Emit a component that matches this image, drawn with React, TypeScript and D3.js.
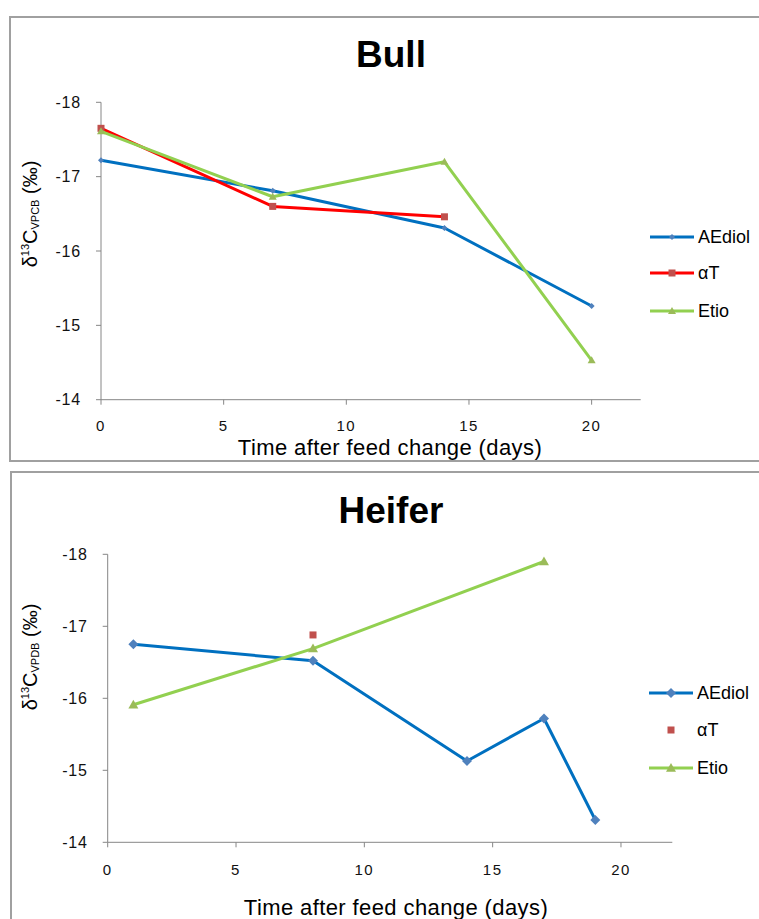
import React from "react";
import * as d3 from "d3";

// ---------- data ----------
const xTicks = [0, 5, 10, 15, 20];
const yTicks = [-18, -17, -16, -15, -14];
const seriesNames = ["AEdiol", "αT", "Etio"];

const bullAEdiolDays = [0, 7, 14, 20];
const bullAEdiol = [-17.22, -16.81, -16.31, -15.26];
const bullAlphaTDays = [0, 7, 14];
const bullAlphaT = [-17.65, -16.6, -16.46];
const bullEtioDays = [0, 7, 14, 20];
const bullEtio = [-17.61, -16.73, -17.2, -14.53];

const heiferAEdiolDays = [1, 8, 14, 17, 19];
const heiferAEdiol = [-16.75, -16.52, -15.13, -15.72, -14.31];
const heiferAlphaTDays = [8];
const heiferAlphaT = [-16.88];
const heiferEtioDays = [1, 8, 17];
const heiferEtio = [-15.91, -16.69, -17.9];

// ---------- styles ----------
const LINE = { AEdiol: "#0070C0", "αT": "#FF0000", Etio: "#92D050" } as Record<string, string>;
const MARK = { AEdiol: "#4F81BD", "αT": "#C0504D", Etio: "#9BBB59" } as Record<string, string>;
const AXIS = "#868686";
const FONT = "'Liberation Sans', Arial, sans-serif";

type Series = { name: string; days: number[]; vals: number[]; line: boolean };

function marker(name: string, x: number, y: number, sz: { d: number; s: number; t: number }, key: string) {
  const fill = MARK[name];
  if (name === "AEdiol") {
    const r = sz.d;
    return <path key={key} d={`M${x},${y - r}L${x + r},${y}L${x},${y + r}L${x - r},${y}Z`} fill={fill} />;
  }
  if (name === "αT") {
    const h = sz.s / 2;
    return <rect key={key} x={x - h} y={y - h} width={sz.s} height={sz.s} fill={fill} />;
  }
  const w = sz.t / 2;
  return <path key={key} d={`M${x},${y - w}L${x + w},${y + w * 0.75}L${x - w},${y + w * 0.75}Z`} fill={fill} />;
}

function Panel(props: {
  title: string;
  titleY: number;
  sub: string;
  yTitleX: number;
  yTitleY: number;
  xr: [number, number];
  yr: [number, number];
  series: Series[];
  sz: { d: number; s: number; t: number };
  legX: number;
  legY: number[];
  xLabelY: number;
  xTitleX: number;
  xTitleY: number;
  legendNoLine: string[];
}) {
  const x = d3.scaleLinear().domain([0, 22]).range(props.xr);
  const y = d3.scaleLinear().domain([-18, -14]).range(props.yr);
  const line = d3
    .line<[number, number]>()
    .x((d) => x(d[0]))
    .y((d) => y(d[1]));
  const x0 = props.xr[0];
  const yb = props.yr[1];
  return (
    <g>
      <text x={391} y={props.titleY} textAnchor="middle" fontFamily={FONT} fontWeight="bold" fontSize={37} fill="#000">
        {props.title}
      </text>
      {/* axes */}
      <line x1={x0} x2={x0} y1={props.yr[0]} y2={yb} stroke={AXIS} strokeWidth={1} />
      <line x1={x0} x2={props.xr[1]} y1={yb} y2={yb} stroke={AXIS} strokeWidth={1} />
      {yTicks.map((t) => (
        <g key={"yt" + t}>
          <line x1={x0 - 5} x2={x0} y1={y(t)} y2={y(t)} stroke={AXIS} />
          <text x={x0 - 20} y={y(t)} dy="0.35em" textAnchor="end" fontFamily={FONT} fontSize={16} fill="#111" letterSpacing={0.8}>
            {String(t)}
          </text>
        </g>
      ))}
      {xTicks.map((t) => (
        <g key={"xt" + t}>
          <line x1={x(t)} x2={x(t)} y1={yb} y2={yb + 5} stroke={AXIS} />
          <text x={x(t)} y={props.xLabelY} textAnchor="middle" fontFamily={FONT} fontSize={15} fill="#111" letterSpacing={1.5}>
            {t}
          </text>
        </g>
      ))}
      <text x={props.xTitleX} y={props.xTitleY} textAnchor="middle" fontFamily={FONT} fontSize={22} fill="#000" letterSpacing={0.4}>
        Time after feed change (days)
      </text>
      <text
        transform={`translate(${props.yTitleX},${props.yTitleY}) rotate(-90)`}
        textAnchor="middle"
        fontFamily={FONT}
        fontSize={20}
        fill="#000"
      >
        <tspan>δ</tspan>
        <tspan fontSize={11} dy={-8}>13</tspan>
        <tspan fontSize={20} dy={8}>C</tspan>
        <tspan fontSize={11} dy={2}>{props.sub}</tspan>
        <tspan fontSize={20} dy={-2}> (‰)</tspan>
      </text>
      {/* series */}
      {props.series.map((s) => {
        const pts = s.days.map((d, i) => [d, s.vals[i]] as [number, number]);
        return (
          <g key={s.name}>
            {s.line && pts.length > 1 && (
              <path d={line(pts) || ""} fill="none" stroke={LINE[s.name]} strokeWidth={3} strokeLinejoin="round" />
            )}
            {pts.map((p, i) => marker(s.name, x(p[0]), y(p[1]), props.sz, s.name + i))}
          </g>
        );
      })}
      {/* legend */}
      {seriesNames.map((n, i) => {
        const ly = props.legY[i];
        const noLine = props.legendNoLine.includes(n);
        return (
          <g key={"leg" + n}>
            {!noLine && (
              <line x1={props.legX} x2={props.legX + 44} y1={ly} y2={ly} stroke={LINE[n]} strokeWidth={3} />
            )}
            {marker(n, props.legX + 22, ly, props.sz, "lm" + n)}
            <text x={props.legX + 48} y={ly} dy="0.35em" fontFamily={FONT} fontSize={18} fill="#000">
              {n}
            </text>
          </g>
        );
      })}
    </g>
  );
}

export default function App() {
  const bullSeries: Series[] = [
    { name: "AEdiol", days: bullAEdiolDays, vals: bullAEdiol, line: true },
    { name: "αT", days: bullAlphaTDays, vals: bullAlphaT, line: true },
    { name: "Etio", days: bullEtioDays, vals: bullEtio, line: true },
  ];
  const heiferSeries: Series[] = [
    { name: "AEdiol", days: heiferAEdiolDays, vals: heiferAEdiol, line: true },
    { name: "αT", days: heiferAlphaTDays, vals: heiferAlphaT, line: false },
    { name: "Etio", days: heiferEtioDays, vals: heiferEtio, line: true },
  ];
  return (
    <svg
      width={759}
      height={919}
      style={{ position: "absolute", left: 0, top: 0, background: "#fff" }}
    >
      <rect x={0} y={0} width={759} height={919} fill="#fff" />
      <rect x={10} y={17} width={760} height={444} fill="none" stroke="#A0A0A0" strokeWidth={2} />
      <rect x={11} y={472} width={760} height={460} fill="none" stroke="#A0A0A0" strokeWidth={2} />
      <Panel
        title="Bull"
        titleY={67}
        sub="VPCB"
        yTitleX={37}
        yTitleY={214}
        xr={[101, 640.7]}
        yr={[102.3, 399.7]}
        series={bullSeries}
        sz={{ d: 3, s: 7, t: 8 }}
        legX={650}
        legY={[237, 273, 311]}
        xLabelY={431}
        xTitleX={390}
        xTitleY={455}
        legendNoLine={[]}
      />
      <Panel
        title="Heifer"
        titleY={523}
        sub="VPDB"
        yTitleX={37}
        yTitleY={657}
        xr={[107.7, 672.3]}
        yr={[554.3, 842.3]}
        series={heiferSeries}
        sz={{ d: 5, s: 7, t: 10 }}
        legX={649}
        legY={[693, 730, 768]}
        xLabelY={875}
        xTitleX={396}
        xTitleY={915}
        legendNoLine={["αT"]}
      />
    </svg>
  );
}
